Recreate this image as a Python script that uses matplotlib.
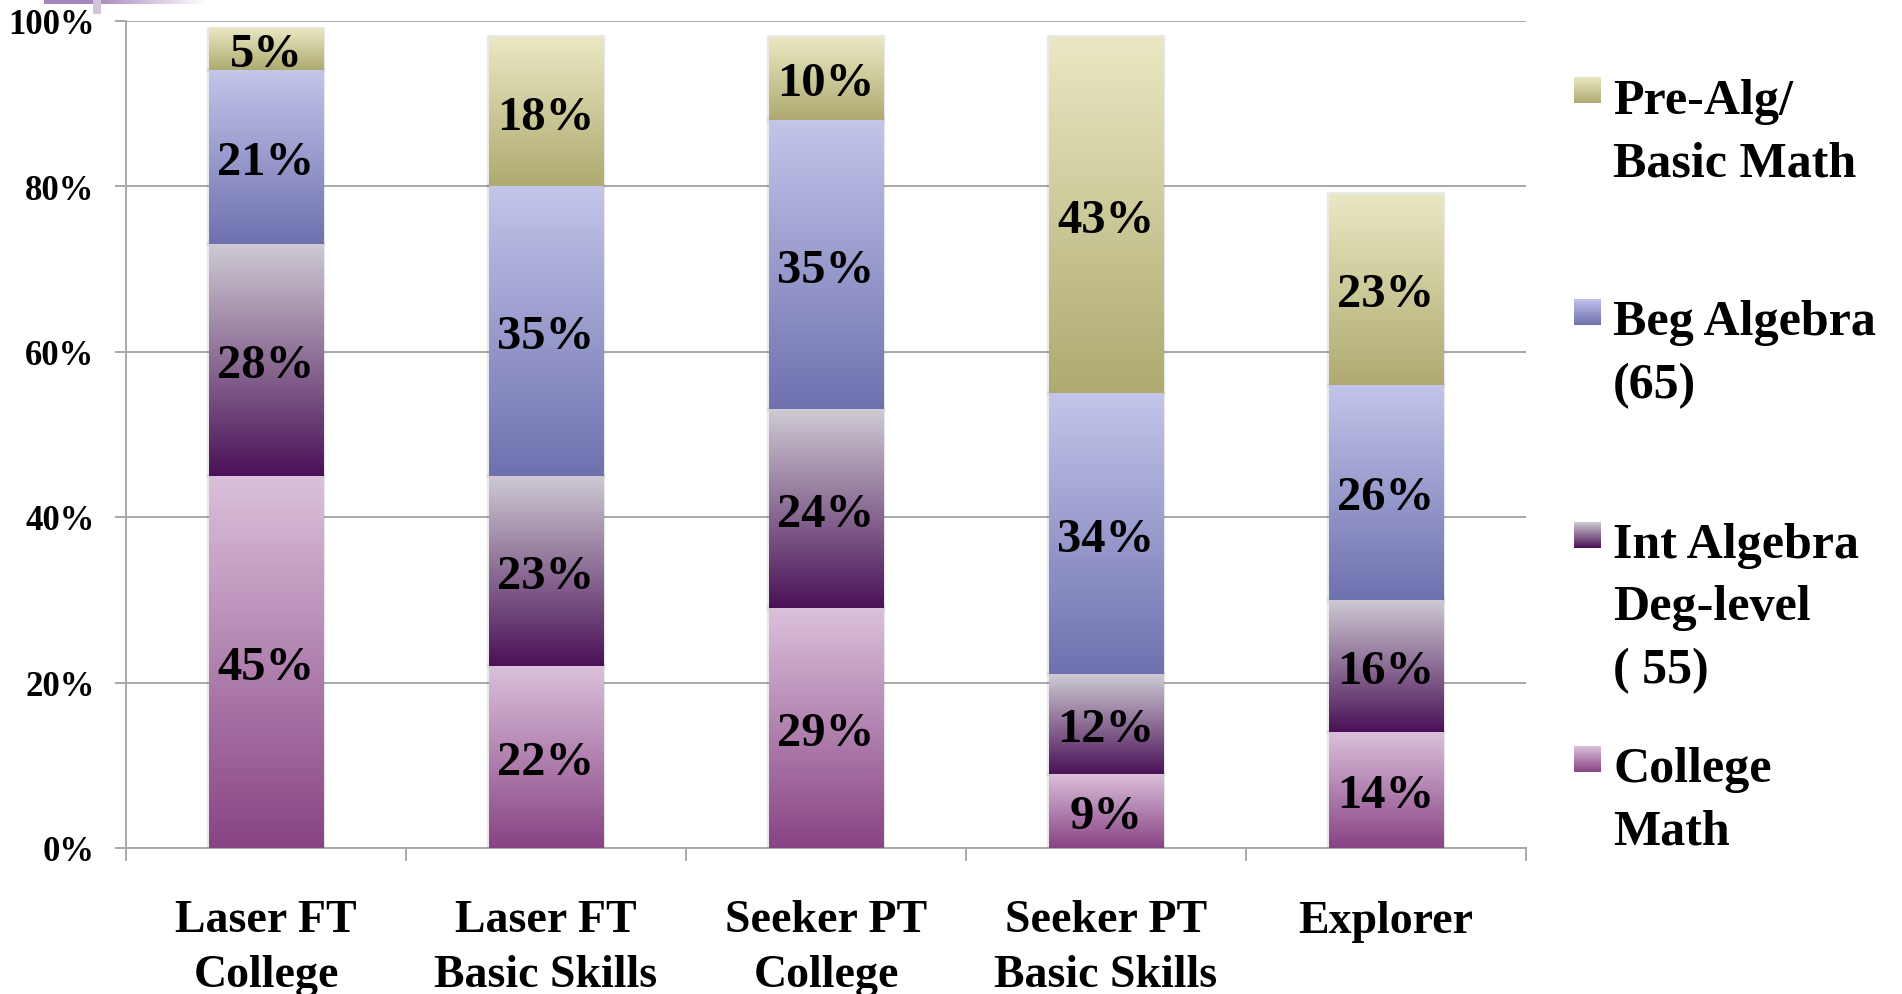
import numpy as np
import matplotlib
matplotlib.use("Agg")
import matplotlib.pyplot as plt
import matplotlib.transforms as mtrans
from matplotlib.colors import to_rgb

# ---------------- data ----------------
categories = ["Laser FT\nCollege", "Laser FT\nBasic Skills", "Seeker PT\nCollege",
              "Seeker PT\nBasic Skills", "Explorer"]
college_math = [45, 22, 29, 9, 14]
int_algebra = [28, 23, 24, 12, 16]
beg_algebra = [21, 35, 35, 34, 26]
pre_alg = [5, 18, 10, 43, 23]
series_values = [college_math, int_algebra, beg_algebra, pre_alg]
series_names = ["College\nMath", "Int Algebra\nDeg-level\n( 55)", "Beg Algebra\n(65)",
                "Pre-Alg/\nBasic Math"]
y_ticks = [0, 20, 40, 60, 80, 100]
y_tick_labels = ["0%", "20%", "40%", "60%", "80%", "100%"]

# ---------------- style ----------------
FONT = "Liberation Serif"
W, H = 1902, 995
# (top colour, bottom colour) per series
grads = [("#DBC1DB", "#884384"),
         ("#CECAD3", "#4A1157"),
         ("#C3C5EA", "#6E71AF"),
         ("#EAE8C3", "#AEAA70")]
GRID = "#A8A8A8"


def vgrad(top, bottom, n=256):
    t = np.linspace(0, 1, n)[:, None]
    a = np.array(to_rgb(bottom))[None, :]
    b = np.array(to_rgb(top))[None, :]
    return (a * (1 - t) + b * t)[:, None, :]


fig = plt.figure(figsize=(W / 100, H / 100), dpi=100)
ax_bottom_px = 849.0
ax_h_px = 827.5
ax = fig.add_axes([126 / W, (H - ax_bottom_px) / H, 1400 / W, ax_h_px / H])

x = np.arange(len(categories))
bottoms = np.zeros(len(categories))
for vals, (ctop, cbot) in zip(series_values, grads):
    bars = ax.bar(x, vals, width=0.41, bottom=bottoms, color="none",
                  edgecolor=(0.3, 0.3, 0.3, 0.12), linewidth=3, zorder=2)
    g = vgrad(ctop, cbot)
    for rect, v in zip(bars, vals):
        x0, y0 = rect.get_x(), rect.get_y()
        w, h = rect.get_width(), rect.get_height()
        ax.imshow(g, extent=[x0, x0 + w, y0, y0 + h], origin="lower",
                  aspect="auto", zorder=3, interpolation="nearest")
        ax.text(x0 + w / 2, y0 + h / 2, f"{v}%", ha="center", va="center_baseline",
                fontsize=35, fontweight="bold", family=FONT, color="black", zorder=5)
    bottoms += np.array(vals)

ax.set_xlim(-0.5, len(categories) - 0.5)
ax.set_ylim(0, 100)
ax.set_yticks(y_ticks)
ax.set_yticklabels(y_tick_labels, fontsize=25, fontweight="bold", family=FONT)
ax.set_xticks(np.arange(-0.5, len(categories)))
ax.set_xticklabels([])
ax.set_axisbelow(True)
ax.yaxis.grid(True, color=GRID, linewidth=1.4)
for s in ["top", "right"]:
    ax.spines[s].set_visible(False)
for s in ["left", "bottom"]:
    ax.spines[s].set_color(GRID)
    ax.spines[s].set_linewidth(1.4)
ax.tick_params(axis="y", length=7.6, width=1.4, color=GRID, pad=15.0)
ax.tick_params(axis="x", length=9.4, width=1.4, color=GRID)

# category labels: va='baseline' aligns the LAST line, so shift by (n-1) steps
trans = mtrans.blended_transform_factory(ax.transData, ax.transAxes)
cat_first_base = 933.3
cat_step = 53.4
for i, c in enumerate(categories):
    n = c.count("\n")
    yb = cat_first_base + n * cat_step
    ax.text(i, (ax_bottom_px - yb) / ax_h_px, c, transform=trans, ha="center",
            va="baseline", fontsize=33, fontweight="bold", family=FONT,
            linespacing=1.40, multialignment="center")

# ---------------- legend (drawn manually) ----------------
baselines = [783.3, 560, 336.7, 115]
leg_step = 61.7
for name, (ctop, cbot), b in zip(series_names, grads, baselines):
    pax = fig.add_axes([1574 / W, 1 - (b - 10.7) / H, 27 / W, 26 / H])
    pax.imshow(vgrad(ctop, cbot), origin="lower", aspect="auto", interpolation="nearest")
    pax.set_axis_off()
    n = name.count("\n")
    fig.text(1613 / W, 1 - (b + n * leg_step) / H, name, ha="left", va="baseline",
             fontsize=36, fontweight="bold", family=FONT, linespacing=1.48)

# ---------------- slide decoration (top-left) ----------------
dax = fig.add_axes([44 / W, 1 - 5 / H, 163 / W, 5 / H])
t = np.linspace(0, 1, 200)
c0 = np.array(to_rgb("#A586BD"))
c1 = np.array([1.0, 1.0, 1.0])
fade = np.clip((t - 0.3) / 0.7, 0, 1)[:, None]
dax.imshow((c0 * (1 - fade) + c1 * fade)[None, :, :], aspect="auto")
dax.set_axis_off()
sax = fig.add_axes([93 / W, 1 - 15 / H, 8 / W, 15 / H])
sax.set_facecolor("#D3C4DD")
sax.set_xticks([]); sax.set_yticks([])
for s in sax.spines.values():
    s.set_visible(False)

fig.savefig("out.png", dpi=100)
